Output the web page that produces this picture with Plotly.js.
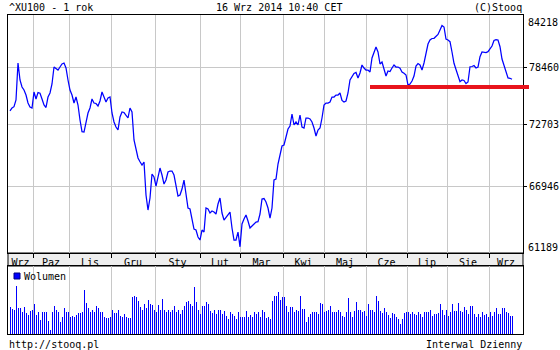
<!DOCTYPE html>
<html><head><meta charset="utf-8">
<script src="https://cdn.plot.ly/plotly-3.0.1.min.js"></script>
<style>html,body{margin:0;padding:0;background:#fff}#chart{width:560px;height:350px}</style>
</head><body><div id="chart"></div><script>
// ---- data ----
const months = ['Wrz','Paz','Lis','Gru','Sty','Lut','Mar','Kwi','Maj','Cze','Lip','Sie','Wrz'];
const monthBoundaries = [11.5,29.5,50.5,72.5,95,115,136.5,157,178,198.5,218.5,239.5];
const yTicks = [84218,78460,72703,66946,61189];
const close = [74040,74335,74465,75137,78963,77182,76461,76153,75643,74835,
 74434,74335,75949,75238,75898,75817,75238,74634,74385,75440,
 75847,76769,78539,78330,78225,78539,78857,78963,78434,77182,
 76153,75643,74835,75440,74634,73147,72007,71978,72951,73838,
 74335,75238,74835,74785,74534,75036,75949,75339,74936,75339,
 75440,73838,72951,72464,72172,73443,73937,73887,73640,73344,
 74335,73937,71209,70449,69509,69164,68858,69136,66141,64822,
 65875,68032,67758,66944,67668,68582,67940,67124,67486,68215,
 68306,68306,67940,66944,66052,66141,66676,67486,66141,64997,
 64910,64130,63190,63105,62515,62264,63105,62936,64997,64910,
 64562,64735,64649,64476,65347,65875,64562,63958,64217,64476,
 64649,63275,62264,62264,62936,61700,63616,64044,64389,63872,
 63275,63445,63616,63787,63813,64476,65786,65831,65522,64997,
 64130,64997,67486,67577,68950,69695,70638,70732,71496,72269,
 72561,73739,72658,72951,72658,73640,72464,72366,73344,73344,
 73246,72951,72366,71592,72172,72366,73344,74634,74835,74835,
 74936,75440,75440,75643,75643,75847,75087,74936,75036,75847,
 77182,77598,77859,77964,77390,77911,78751,78434,78225,78225,
 78016,79495,80031,80678,80138,78857,79069,78225,77598,78120,
 78068,78434,78751,78539,78539,78404,78016,77880,77702,76666,
 76769,77079,77598,78645,78910,78751,78225,78963,79923,81003,
 81439,81603,81625,81822,82042,82539,83039,82872,81548,81439,
 81254,80138,78931,78277,77494,77007,77182,77130,76820,76976,
 78571,78592,78698,78434,78539,79634,80138,80106,80084,80170,
 80537,80785,81384,81472,81439,80710,79388,78698,77911,77390,
 77359,77254];
const volume = [27,25,24,48,26,26,22,27,21,19,
 23,24,30,19,22,14,22,22,22,13,
 4,22,28,24,22,12,17,26,22,22,
 17,18,17,19,21,21,22,44,31,26,
 22,24,22,28,26,22,22,17,16,16,
 17,24,21,21,24,18,17,20,17,16,
 16,37,38,37,33,27,24,30,26,34,
 30,29,24,22,29,24,35,24,22,24,
 22,24,28,22,24,20,24,28,32,33,
 30,28,47,32,24,20,28,28,32,30,
 23,21,24,20,24,24,20,23,18,15,
 22,20,18,15,22,17,17,17,23,17,
 19,17,22,20,22,17,24,22,16,17,
 15,33,38,38,42,
 34,37,37,28,22,27,27,22,24,23,
 38,25,25,12,17,20,22,22,22,20,
 31,30,22,23,24,28,22,22,22,24,
 22,18,17,22,36,22,17,23,32,24,
 24,22,23,18,30,24,24,22,38,33,
 23,21,26,22,19,16,21,20,17,15,
 10,15,21,22,22,20,22,20,19,22,
 20,17,22,22,22,24,18,20,20,21,
 30,24,19,24,18,22,30,23,23,31,
 23,22,27,24,20,28,28,20,17,20,
 17,22,19,20,17,22,18,22,26,20,
 20,26,26,22,21,18,18];
const supportLevel = 76460;
const supportStartIdx = 180;

// ---- layout helpers ----
const xMin = -1, xMax = 256.5;
const days = close.map((_, i) => i);
const edges = [xMin, ...monthBoundaries, xMax];
const labelPos = months.map((m, i) => (edges[i] + edges[i + 1]) / 2);
const FONT = {family: 'DejaVu Sans Mono, monospace', size: 10, color: '#000'};
const GRID = '#c8c8c8';
const H = 319, TOP = 15, W = 515, LEFT = 8;
const py = p => (TOP + H - p) / H;   // page y -> paper
const px = p => (p - LEFT) / W;      // page x -> paper
const mainBottom = py(253), volTop = py(266);
const yLogMin = Math.log10(yTicks[4]), yLogMax = Math.log10(yTicks[0]);
const supportPaperY = mainBottom + (Math.log10(supportLevel) - yLogMin) / (yLogMax - yLogMin) * (1 - mainBottom);

const traces = [
  {x: days, y: close, type: 'scatter', mode: 'lines', line: {color: '#0000ff', width: 1.25},
   xaxis: 'x', yaxis: 'y', hoverinfo: 'skip'},
  {x: days, y: volume, type: 'bar', width: 0.5, offset: 0, marker: {color: '#0000ff', line: {width: 0}},
   xaxis: 'x2', yaxis: 'y2', hoverinfo: 'skip'}
];

const ann = (text, x, y, xanchor) => ({text, x, y, xref: 'paper', yref: 'paper', xanchor, yanchor: 'middle',
  showarrow: false, font: FONT, borderpad: 0});

const layout = {
  width: 560, height: 350,
  margin: {l: 8, r: 37, t: 15, b: 16, pad: 0},
  paper_bgcolor: '#fff', plot_bgcolor: '#fff',
  showlegend: false, font: FONT, bargap: 0,
  xaxis: {domain: [0, 1], range: [xMin, xMax], anchor: 'y', tickmode: 'array',
    tickvals: labelPos, ticktext: months, ticks: '', showgrid: false, zeroline: false,
    showline: true, linecolor: '#000', linewidth: 1, mirror: true, tickfont: FONT,
    minor: {tickmode: 'array', tickvals: monthBoundaries, showgrid: true, gridcolor: GRID, gridwidth: 1,
      ticks: 'outside', ticklen: 4, tickcolor: '#000'}},
  yaxis: {type: 'log', domain: [mainBottom, 1], anchor: 'x',
    range: [yLogMin, yLogMax], side: 'right',
    tickmode: 'array', tickvals: yTicks.slice(1, 4), ticktext: yTicks.slice(1, 4).map(String),
    ticks: 'outside', ticklen: 3, tickcolor: '#000', showgrid: true, gridcolor: GRID, gridwidth: 1,
    showline: true, linecolor: '#000', mirror: true, zeroline: false, tickfont: FONT},
  xaxis2: {domain: [0, 1], range: [xMin, xMax], anchor: 'y2', tickmode: 'array', tickvals: monthBoundaries,
    showticklabels: false, ticks: '', showgrid: true, gridcolor: GRID, gridwidth: 1, zeroline: false,
    showline: true, linecolor: '#000', mirror: true},
  yaxis2: {domain: [0, volTop], range: [0, 68], anchor: 'x2', showticklabels: false, ticks: '',
    showgrid: false, zeroline: false, showline: true, linecolor: '#000', mirror: true},
  shapes: [
    {type: 'rect', xref: 'paper', yref: 'paper', x0: 0, x1: 1, y0: volTop, y1: mainBottom,
     fillcolor: '#eeeeee', line: {color: '#000', width: 1}, layer: 'below'},
    {type: 'line', xref: 'paper', yref: 'paper', x0: (supportStartIdx - xMin) / (xMax - xMin), x1: px(529),
     y0: supportPaperY, y1: supportPaperY, line: {color: '#e8141c', width: 4}},
    {type: 'rect', xref: 'paper', yref: 'paper', x0: px(14), x1: px(20), y0: py(279), y1: py(273),
     fillcolor: '#0000ff', line: {color: '#000080', width: 1}}
  ],
  annotations: [
    ann('^XU100 - 1 rok', 0, py(7), 'left'),
    ann('16 Wrz 2014 10:40 CET', px(279), py(7), 'center'),
    ann('(C)Stooq', 1, py(7), 'right'),
    ann(String(yTicks[0]), 1, py(22), 'left'),
    ann(String(yTicks[4]), 1, py(248), 'left'),
    ann('Wolumen', px(23), py(276), 'left'),
    ann('http://stooq.pl', 0, py(344), 'left'),
    ann('Interwal Dzienny', 1, py(344), 'right')
  ]
};
layout.annotations[3].xshift = 4;
layout.annotations[4].xshift = 4;

Plotly.newPlot('chart', traces, layout, {staticPlot: true, displayModeBar: false});
</script></body></html>
